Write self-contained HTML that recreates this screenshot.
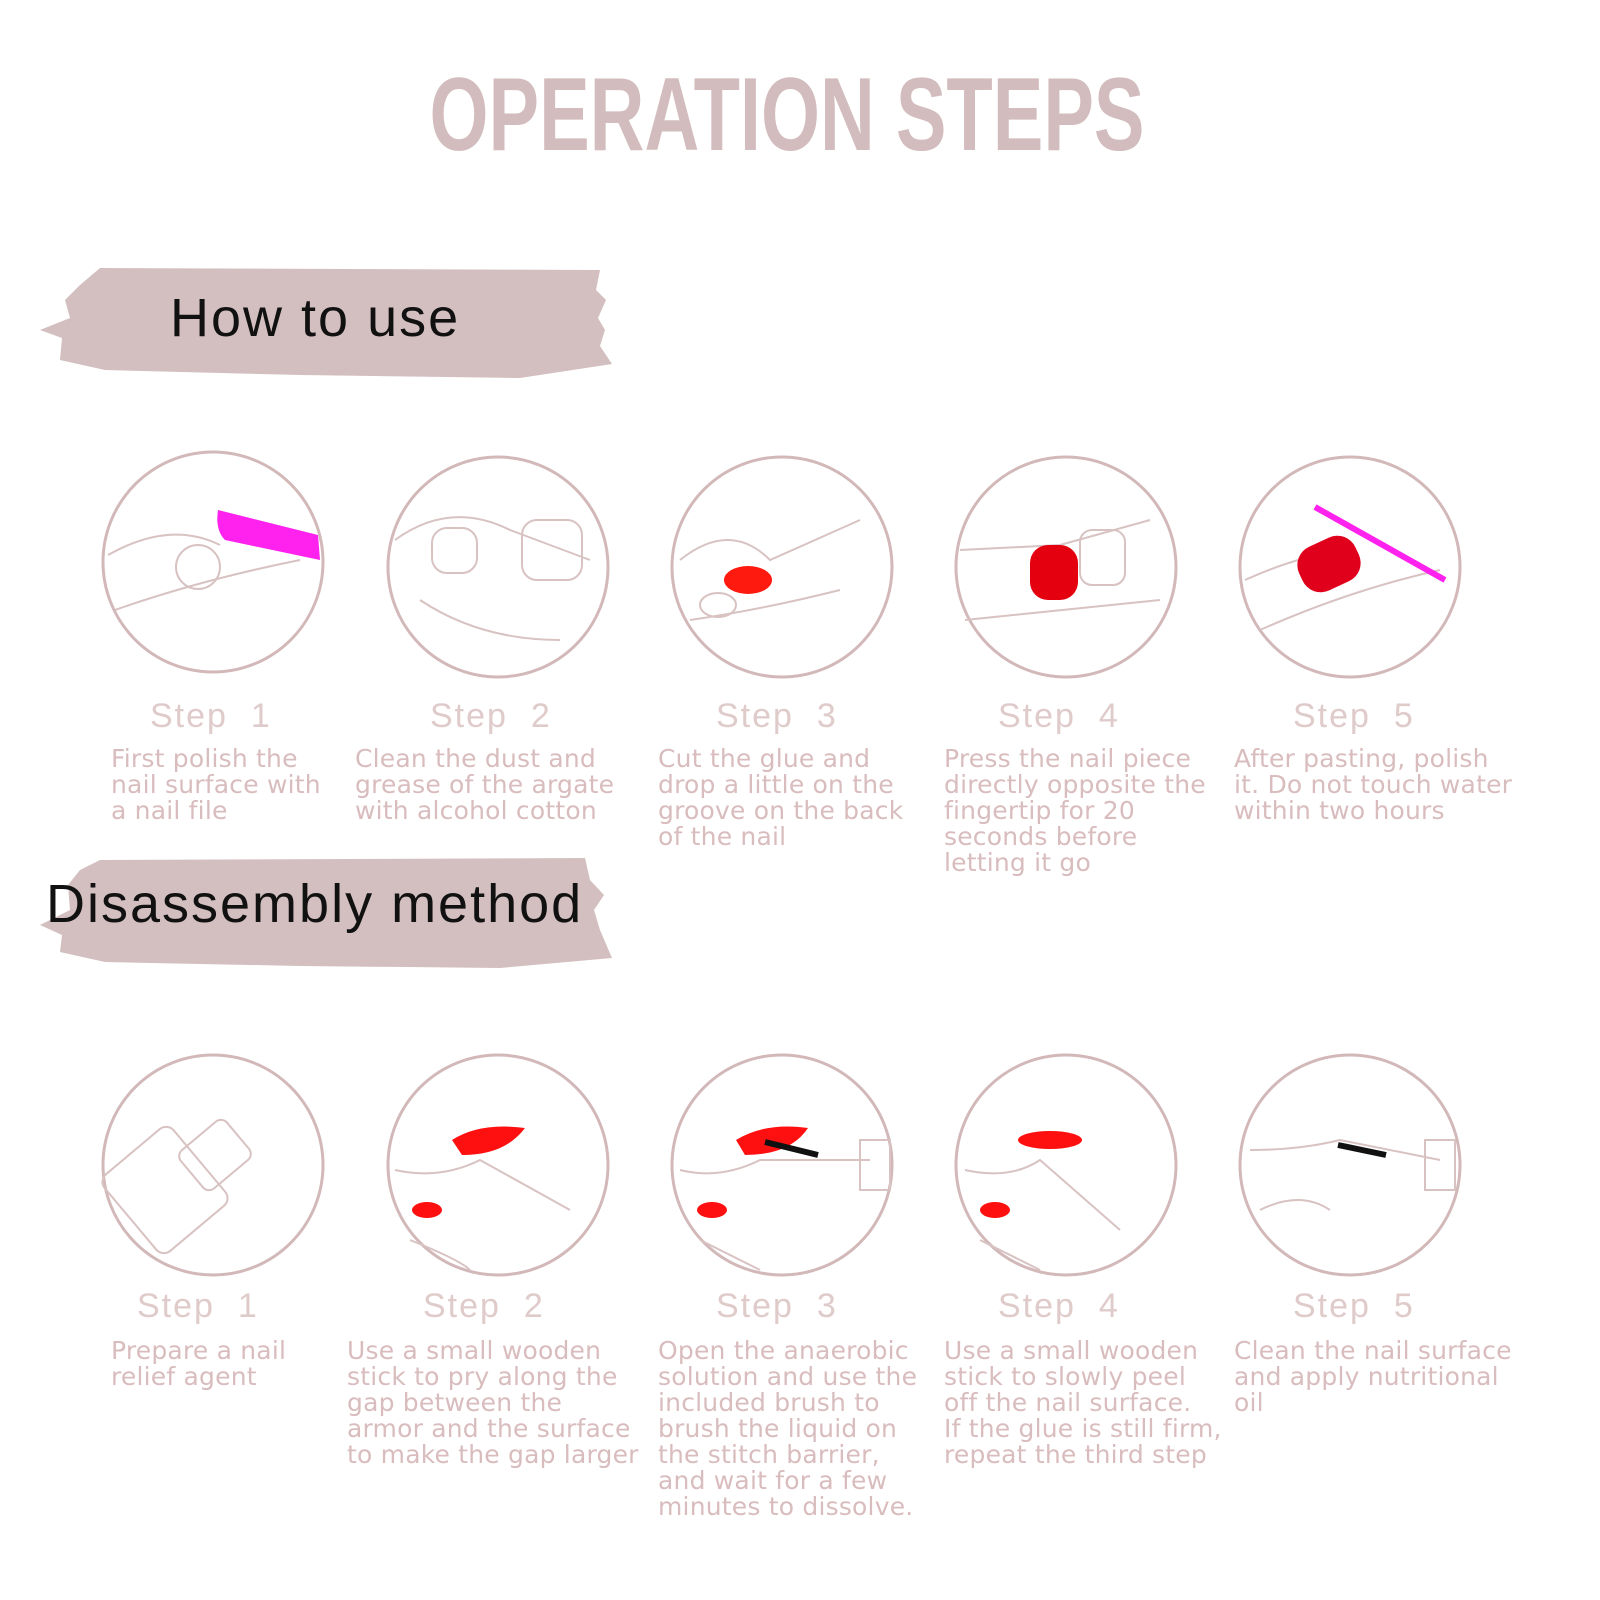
<!DOCTYPE html>
<html><head><meta charset="utf-8"><style>
body{margin:0;width:1600px;height:1600px;background:#fff;position:relative;overflow:hidden;font-family:"Liberation Sans",sans-serif}
.t{position:absolute;color:#d9bcbd;font-family:"DejaVu Sans",sans-serif;font-size:25px;line-height:26px;letter-spacing:0.2px;white-space:nowrap}
.s{position:absolute;color:#e0cbcb;font-size:34px;letter-spacing:2px;white-space:nowrap}
.h{position:absolute;color:#111;font-size:54px;letter-spacing:2px;white-space:nowrap}
</style></head><body>
<svg width="1600" height="1600" style="position:absolute;left:0;top:0">
<text x="787" y="150" text-anchor="middle" font-family="Liberation Sans Narrow, Liberation Sans, sans-serif" font-weight="bold" font-size="104" fill="#d3bcbd" textLength="715" lengthAdjust="spacingAndGlyphs">OPERATION STEPS</text>
<g fill="#d4bfc0">
<path d="M100 268 L600 270 L596 290 L606 300 L598 318 L605 330 L600 346 L612 364 L520 378 L300 375 L105 370 L60 360 L62 338 L40 330 L70 318 L65 300 L80 285 Z"/>
<path d="M100 860 L585 858 L590 880 L604 895 L594 910 L600 930 L612 958 L500 968 L300 966 L105 962 L60 952 L62 935 L40 925 L70 910 L68 885 L80 870 Z"/>
</g>
<g fill="none" stroke="#d2b8b9" stroke-width="3">
<circle cx="213" cy="562" r="110"/><circle cx="498" cy="567" r="110"/><circle cx="782" cy="567" r="110"/><circle cx="1066" cy="567" r="110"/><circle cx="1350" cy="567" r="110"/>
<circle cx="213" cy="1165" r="110"/><circle cx="498" cy="1165" r="110"/><circle cx="782" cy="1165" r="110"/><circle cx="1066" cy="1165" r="110"/><circle cx="1350" cy="1165" r="110"/>
</g>
<g fill="none" stroke="#d8c2c2" stroke-width="2">
<path d="M108 555 Q170 520 220 545 M115 610 Q200 580 300 560"/><circle cx="198" cy="567" r="22"/>
<path d="M395 540 Q450 500 510 530 L590 560 M420 600 Q480 640 560 640"/><rect x="432" y="528" width="45" height="45" rx="15"/><rect x="522" y="520" width="60" height="60" rx="15"/>
<path d="M680 560 Q730 520 770 560 L860 520 M690 620 Q760 610 840 590"/><ellipse cx="718" cy="605" rx="18" ry="12"/>
<path d="M960 550 L1060 545 L1150 520 M965 620 Q1060 610 1160 600"/><rect x="1080" y="530" width="45" height="55" rx="12"/>
<path d="M1245 580 Q1290 560 1320 555 M1260 630 Q1350 590 1440 570"/>
<rect x="120" y="1140" width="90" height="100" rx="10" transform="rotate(-40 165 1190)"/><rect x="185" y="1130" width="60" height="50" rx="8" transform="rotate(-40 215 1155)"/>
<path d="M395 1170 Q440 1180 480 1160 L570 1210 M410 1240 Q460 1260 470 1270"/>
<path d="M680 1170 Q720 1180 760 1160 L870 1160 M700 1240 Q740 1260 760 1270"/><rect x="860" y="1140" width="30" height="50"/>
<path d="M965 1170 Q1010 1180 1040 1160 L1120 1230 M980 1240 Q1020 1260 1040 1270"/>
<path d="M1250 1150 Q1300 1150 1340 1140 L1440 1160 M1260 1210 Q1300 1190 1330 1210"/><rect x="1425" y="1140" width="30" height="50"/>
</g>
<path d="M218 510 Q215 530 225 540 L320 560 L318 535 Z" fill="#ff22ee"/>
<path d="M1315 507 L1445 580" stroke="#ff22ee" stroke-width="6"/>
<ellipse cx="748" cy="580" rx="24" ry="14" fill="#ff1a10"/>
<rect x="1030" y="545" width="48" height="55" rx="18" fill="#e4000f"/>
<rect x="1298" y="540" width="62" height="48" rx="20" fill="#e0001c" transform="rotate(-25 1329 564)"/>
<path d="M452 1140 Q480 1122 525 1128 Q505 1155 462 1155 Z" fill="#ff1010"/>
<ellipse cx="427" cy="1210" rx="15" ry="8" fill="#ff1010"/>
<path d="M736 1140 Q765 1122 808 1128 Q790 1155 745 1155 Z" fill="#ff1010"/>
<ellipse cx="712" cy="1210" rx="15" ry="8" fill="#ff1010"/>
<ellipse cx="1050" cy="1140" rx="32" ry="9" fill="#ff1010"/>
<ellipse cx="995" cy="1210" rx="15" ry="8" fill="#ff1010"/>
<path d="M765 1142 L818 1155 M1338 1145 L1386 1155" stroke="#111" stroke-width="6"/>
</svg>
<div class="h" style="left:170px;top:287px">How to use</div>
<div class="h" style="left:46px;top:873px">Disassembly method</div>
<div class="s" style="left:150px;top:697px">Step&nbsp; 1</div>
<div class="s" style="left:430px;top:697px">Step&nbsp; 2</div>
<div class="s" style="left:716px;top:697px">Step&nbsp; 3</div>
<div class="s" style="left:998px;top:697px">Step&nbsp; 4</div>
<div class="s" style="left:1293px;top:697px">Step&nbsp; 5</div>
<div class="s" style="left:137px;top:1287px">Step&nbsp; 1</div>
<div class="s" style="left:423px;top:1287px">Step&nbsp; 2</div>
<div class="s" style="left:716px;top:1287px">Step&nbsp; 3</div>
<div class="s" style="left:998px;top:1287px">Step&nbsp; 4</div>
<div class="s" style="left:1293px;top:1287px">Step&nbsp; 5</div>
<div class="t" style="left:111px;top:746px">First polish the<br>nail surface with<br>a nail file</div>
<div class="t" style="left:355px;top:746px">Clean the dust and<br>grease of the argate<br>with alcohol cotton</div>
<div class="t" style="left:658px;top:746px">Cut the glue and<br>drop a little on the<br>groove on the back<br>of the nail</div>
<div class="t" style="left:944px;top:746px">Press the nail piece<br>directly opposite the<br>fingertip for 20<br>seconds before<br>letting it go</div>
<div class="t" style="left:1234px;top:746px">After pasting, polish<br>it. Do not touch water<br>within two hours</div>
<div class="t" style="left:111px;top:1338px">Prepare a nail<br>relief agent</div>
<div class="t" style="left:347px;top:1338px">Use a small wooden<br>stick to pry along the<br>gap between the<br>armor and the surface<br>to make the gap larger</div>
<div class="t" style="left:658px;top:1338px">Open the anaerobic<br>solution and use the<br>included brush to<br>brush the liquid on<br>the stitch barrier,<br>and wait for a few<br>minutes to dissolve.</div>
<div class="t" style="left:944px;top:1338px">Use a small wooden<br>stick to slowly peel<br>off the nail surface.<br>If the glue is still firm,<br>repeat the third step</div>
<div class="t" style="left:1234px;top:1338px">Clean the nail surface<br>and apply nutritional<br>oil</div>
</body></html>
